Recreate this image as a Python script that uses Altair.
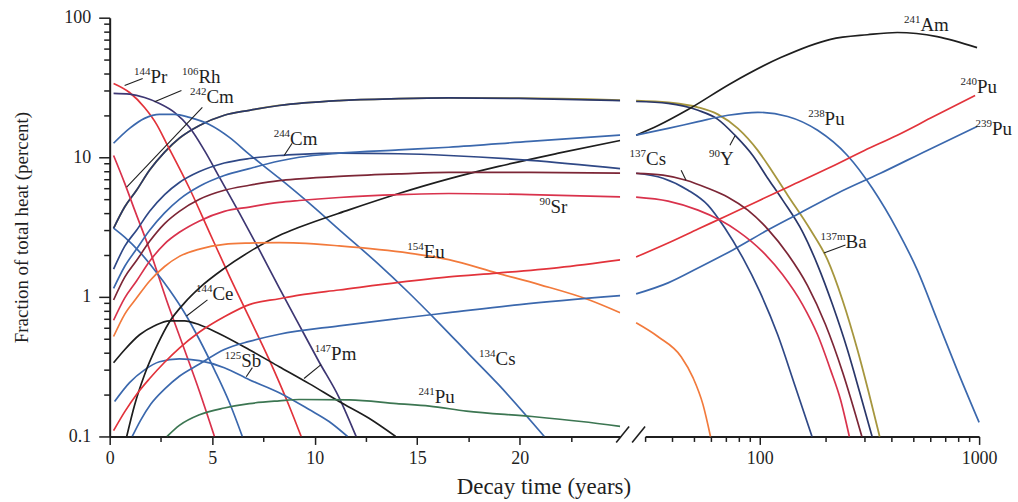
import altair as alt
import pandas as pd

FONT = "Liberation Serif"
INK = "#1f1f1f"

# ---------------- left panel data (years, linear axis) ----------------
y90L_t = [0.19, 0.73, 1.31, 1.95, 2.68, 3.40, 4.38, 5.59, 6.81, 8.27, 11.19, 14.10, 16.54, 19.94, 24.9]
y90L_v = [3.1, 4.4, 5.8, 8.1, 10.9, 13.7, 16.9, 20.0, 21.7, 23.5, 25.5, 26.3, 26.6, 26.4, 25.5]
ba137mL_v = [3.1, 4.4, 5.8, 8.1, 10.9, 13.7, 16.9, 20.0, 21.7, 23.5, 25.5, 26.3, 26.6, 26.5, 25.7]

pr144_t = [0.19, 0.97, 1.70, 2.29, 2.77, 3.89, 4.86, 5.84, 6.81, 7.78, 8.75, 9.34]
pr144_v = [33.8, 29.1, 22.7, 17.2, 12.6, 6.0, 2.91, 1.41, 0.71, 0.355, 0.166, 0.1]

rh106_t = [0.19, 0.97, 1.70, 2.43, 3.16, 3.89, 4.62, 5.35, 6.33, 7.30, 8.27, 9.24, 10.21, 11.19, 12.02]
rh106_v = [28.7, 28.3, 26.8, 24.3, 21.0, 16.4, 11.2, 7.2, 3.98, 2.17, 1.16, 0.63, 0.343, 0.19, 0.1]

cs134_t = [0.19, 0.97, 1.70, 2.43, 3.16, 3.89, 4.86, 5.84, 6.81, 8.27, 9.73, 11.33, 12.99, 14.59, 16.05, 17.51, 18.97, 21.2]
cs134_v = [12.6, 16.1, 19.0, 20.3, 20.3, 19.3, 17.2, 13.9, 10.5, 7.08, 4.69, 2.91, 1.78, 1.07, 0.652, 0.391, 0.235, 0.1]

cm242_t = [0.19, 0.73, 1.22, 1.95, 2.77, 3.65, 4.38, 5.11]
cm242_v = [10.3, 6.53, 4.18, 2.17, 0.95, 0.418, 0.21, 0.1]

ce144_t = [0.19, 0.73, 1.46, 2.19, 2.92, 3.65, 4.38, 5.11, 5.84, 6.47]
ce144_v = [3.11, 2.68, 2.1, 1.56, 1.12, 0.77, 0.493, 0.30, 0.175, 0.1]

pm147_t = [0.19, 0.73, 1.46, 2.19, 2.92, 3.65, 4.38, 5.35, 6.81, 8.27, 9.73, 11.19, 12.65, 13.95]
pm147_v = [0.337, 0.418, 0.535, 0.621, 0.674, 0.674, 0.631, 0.544, 0.418, 0.316, 0.239, 0.178, 0.135, 0.1]

sb125_t = [0.24, 0.97, 1.70, 2.43, 3.40, 4.38, 5.59, 6.81, 8.27, 9.73, 10.70, 11.6]
sb125_v = [0.178, 0.243, 0.30, 0.343, 0.36, 0.349, 0.311, 0.255, 0.206, 0.156, 0.128, 0.1]

am241L_t = [0.83, 1.22, 1.70, 2.33, 2.92, 3.65, 4.38, 5.59, 6.81, 8.27, 9.24, 11.67, 14.10, 16.54, 18.97, 21.89, 24.9]
am241L_v = [0.1, 0.169, 0.277, 0.454, 0.663, 0.906, 1.16, 1.6, 2.1, 2.75, 3.15, 4.2, 5.5, 7.0, 8.6, 10.7, 13.2]

fan_t = [0.19, 0.73, 1.31, 1.95, 2.68, 3.40, 4.38, 5.59, 6.81, 8.27, 9.24, 11.19, 14.10, 16.54, 20.5, 24.9]
cm244L_v = [1.58, 2.3, 3.0, 4.1, 5.4, 6.6, 7.9, 9.1, 9.8, 10.3, 10.5, 10.7, 10.6, 10.3, 9.5, 8.3]
pu238L_v = [1.15, 1.65, 2.2, 3.0, 4.0, 5.0, 6.2, 7.4, 8.3, 9.4, 10.0, 10.7, 11.3, 11.8, 13.0, 14.4]
cs137L_v = [0.95, 1.38, 1.82, 2.5, 3.35, 4.1, 5.0, 5.8, 6.3, 6.8, 7.0, 7.3, 7.6, 7.8, 7.8, 7.7]
sr90L_v = [0.68, 0.98, 1.3, 1.8, 2.4, 2.9, 3.5, 4.1, 4.4, 4.75, 4.9, 5.15, 5.4, 5.5, 5.4, 5.2]

eu154L_t = [0.19, 0.73, 1.31, 1.95, 2.68, 3.40, 4.38, 5.59, 6.81, 8.27, 9.24, 11.19, 14.6, 16.54, 18.9, 21.0, 23.4, 24.9]
eu154L_v = [0.52, 0.75, 0.98, 1.3, 1.65, 1.95, 2.2, 2.38, 2.43, 2.45, 2.43, 2.32, 2.06, 1.85, 1.48, 1.22, 0.95, 0.77]

pu240L_t = [0.19, 0.73, 1.31, 1.95, 2.68, 3.40, 4.38, 5.59, 6.81, 8.27, 9.24, 11.19, 14.10, 16.54, 18.9, 21.9, 24.9]
pu240L_v = [0.11, 0.15, 0.2, 0.26, 0.34, 0.43, 0.56, 0.72, 0.88, 0.97, 1.03, 1.12, 1.27, 1.39, 1.48, 1.62, 1.84]

pu239L_t = [1.1, 1.5, 2.0, 2.7, 3.4, 4.38, 5.59, 6.81, 8.27, 11.19, 14.1, 16.54, 20.0, 24.9]
pu239L_v = [0.1, 0.13, 0.17, 0.22, 0.27, 0.33, 0.42, 0.48, 0.54, 0.62, 0.7, 0.77, 0.88, 1.02]

pu241_t = [2.8, 3.4, 4.38, 5.59, 6.81, 8.27, 9.24, 11.7, 14.0, 15.6, 17.4, 20.6, 23.0, 24.9]
pu241_v = [0.1, 0.12, 0.143, 0.16, 0.172, 0.18, 0.184, 0.183, 0.172, 0.165, 0.152, 0.139, 0.128, 0.118]

# ---------------- right panel data (years, log axis) ----------------
y90R_t = [27.3, 38.2, 52.3, 64.4, 77.0, 92.9, 108.7, 127.2, 156.9, 183.5, 214.7, 251, 284.8, 325]
y90R_v = [25.1, 24.3, 21.7, 18.7, 14.4, 10.3, 7.08, 4.93, 2.91, 1.69, 0.877, 0.418, 0.21, 0.1]

ba137mR_t = [27.3, 38.2, 52.3, 64.4, 79.4, 97.9, 114.6, 134, 170.5, 203.7, 238.2, 278.8, 313, 352]
ba137mR_v = [25.5, 24.7, 22.8, 20.3, 16.1, 11.2, 7.81, 5.35, 3.01, 1.84, 0.95, 0.418, 0.21, 0.1]

am241R_t = [27.3, 34.4, 47.1, 73.8, 124.6, 210.2, 309.6, 423.7, 643.9, 978.5]
am241R_v = [14.4, 16.9, 22.0, 33.8, 51.8, 70.0, 75.5, 78.3, 73.2, 61.0]

pu238R_t = [27.3, 38.2, 52.3, 71.6, 97.9, 134, 183.5, 251, 326, 423.7, 522.3, 643.9, 793.7, 1000]
pu238R_v = [14.4, 16.1, 18.0, 20.0, 21.0, 19.6, 15.6, 10.3, 6.0, 3.01, 1.56, 0.685, 0.30, 0.126]

pu240R_t = [27.3, 38.2, 52.3, 71.6, 97.9, 134, 203.7, 300, 423.7, 598, 959]
pu240R_v = [1.93, 2.43, 3.06, 3.85, 4.85, 6.1, 8.3, 11.2, 14.4, 19.0, 27.7]

pu239R_t = [27.3, 38.2, 52.3, 75.4, 108.7, 148.9, 226.2, 354.8, 580, 978.5]
pu239R_v = [1.05, 1.26, 1.61, 2.17, 3.01, 3.91, 5.53, 7.68, 11.2, 16.6]

eu154R_t = [27.3, 34.4, 43.8, 49.6, 55.1, 59.6]
eu154R_v = [0.652, 0.518, 0.373, 0.264, 0.169, 0.1]

cm244R_t = [27.3, 36.2, 47.1, 58.0, 69.3, 83.7, 100, 120.7, 144.2, 173]
cm244R_v = [7.68, 7.08, 5.81, 4.54, 3.11, 1.9, 1.09, 0.535, 0.235, 0.1]

sr90R_t = [27.3, 38.2, 52.3, 65.8, 79.4, 103.2, 127.2, 156.9, 183.5, 210.2, 233.3, 256]
sr90R_v = [5.18, 4.85, 4.18, 3.55, 2.96, 2.10, 1.44, 0.877, 0.535, 0.30, 0.184, 0.1]

cs137R_t = [27.3, 36.2, 46.1, 58.0, 71.6, 88.2, 108.7, 134, 165.3, 199.5, 238.2, 292]
cs137R_v = [7.68, 7.44, 6.85, 6.0, 5.18, 4.18, 3.06, 2.03, 1.2, 0.631, 0.291, 0.1]

# ---------------- labels and leader lines ----------------
labL_mass = ["144", "106", "242", "244", "90", "154", "134", "147", "241", "144", "125"]
labL_elem = ["Pr", "Rh", "Cm", "Cm", "Sr", "Eu", "Cs", "Pm", "Pu", "Ce", "Sb"]
labL_t = [1.99, 4.33, 4.72, 8.80, 21.5, 15.32, 18.82, 10.8, 15.86, 5.01, 6.42]
labL_v = [34.3, 34.3, 24.3, 12.2, 3.98, 1.9, 0.327, 0.355, 0.175, 0.952, 0.316]

labR_mass = ["137", "90", "238", "241", "240", "239", "137m"]
labR_elem = ["Cs", "Y", "Pu", "Am", "Pu", "Pu", "Ba"]
labR_t = [30.3, 65.8, 197.5, 539.8, 978.5, 1145, 246]
labR_v = [8.77, 8.77, 16.9, 80.7, 28.7, 14.4, 2.24]

leadL_id = ["Pr", "Pr", "Rh", "Rh", "Cm2", "Cm2", "Cm4", "Cm4", "Ce", "Ce", "Sb", "Sb", "Pm", "Pm"]
leadL_t = [1.61, 0.73, 3.50, 2.19, 4.52, 0.83, 8.9, 8.51, 4.77, 3.75, 6.96, 6.66, 10.31, 9.48]
leadL_v = [36.7, 32.7, 30.1, 25.0, 22.8, 6.1, 12.6, 10.3, 0.952, 0.73, 0.311, 0.268, 0.327, 0.26]

leadR_id = ["Cs", "Cs", "Y", "Y", "Ba", "Ba"]
leadR_t = [43.8, 46.1, 77.0, 73.1, 246, 196]
leadR_v = [8.07, 6.85, 14.2, 12.2, 2.35, 2.06]

# ---------------- styles ----------------
NAVY = "#2a376a"
CMNAVY = "#2f4886"
BLUE = "#3b68ad"
BLACK = "#1e1e1e"
RED = "#e2333b"
PINK = "#d9324c"
MAROON = "#7c2636"
ORANGE = "#f27a3c"
GREEN = "#3c7652"
OLIVE = "#a6963e"
PURPLE = "#3e3773"

left_series = [
    ("Y90", NAVY, y90L_t, y90L_v),
    ("Pr144", RED, pr144_t, pr144_v),
    ("Rh106", PURPLE, rh106_t, rh106_v),
    ("Cs134", BLUE, cs134_t, cs134_v),
    ("Cm242", PINK, cm242_t, cm242_v),
    ("Ce144", BLUE, ce144_t, ce144_v),
    ("Pm147", BLACK, pm147_t, pm147_v),
    ("Sb125", BLUE, sb125_t, sb125_v),
    ("Am241", BLACK, am241L_t, am241L_v),
    ("Cm244", CMNAVY, fan_t, cm244L_v),
    ("Pu238", BLUE, fan_t, pu238L_v),
    ("Cs137", MAROON, fan_t, cs137L_v),
    ("Sr90", PINK, fan_t, sr90L_v),
    ("Eu154", ORANGE, eu154L_t, eu154L_v),
    ("Pu240", RED, pu240L_t, pu240L_v),
    ("Pu239", BLUE, pu239L_t, pu239L_v),
    ("Pu241", GREEN, pu241_t, pu241_v),
]
right_series = [
    ("Y90", NAVY, y90R_t, y90R_v),
    ("Am241", BLACK, am241R_t, am241R_v),
    ("Pu238", BLUE, pu238R_t, pu238R_v),
    ("Pu240", RED, pu240R_t, pu240R_v),
    ("Pu239", "#2f5aa3", pu239R_t, pu239R_v),
    ("Eu154", ORANGE, eu154R_t, eu154R_v),
    ("Cm244", CMNAVY, cm244R_t, cm244R_v),
    ("Sr90", PINK, sr90R_t, sr90R_v),
    ("Cs137", MAROON, cs137R_t, cs137R_v),
]


def frame(series):
    rows = []
    for name, _, ts, vs in series:
        for t, v in zip(ts, vs):
            rows.append({"s": name, "t": t, "v": v})
    return pd.DataFrame(rows)


def cscale(series):
    return alt.Scale(domain=[s[0] for s in series], range=[s[1] for s in series])


H = 420
WL = 512
WR = 335

yvals = [0.1, 0.2, 0.3, 0.4, 0.5, 0.6, 0.7, 0.8, 0.9, 1, 2, 3, 4, 5, 6, 7, 8, 9,
         10, 20, 30, 40, 50, 60, 70, 80, 90, 100]
ymajor = "(datum.value == 0.1 || datum.value == 1 || datum.value == 10 || datum.value == 100)"
yscale = alt.Scale(type="log", domain=[0.1, 100], nice=False)

yaxis = alt.Axis(
    values=yvals,
    labelExpr="datum.value == 0.1 ? '0.1' : datum.value == 1 ? '1' : datum.value == 10 ? '10' : datum.value == 100 ? '100' : ''",
    tickSize={"condition": {"test": ymajor, "value": 11}, "value": 6},
    labelPadding=8,
    title="Fraction of total heat (percent)",
    titlePadding=32,
    titleFontSize=19,
)

xl_vals = [0, 2.5, 5, 7.5, 10, 12.5, 15, 17.5, 20, 22.5]
xl_axis = alt.Axis(
    values=xl_vals,
    labelExpr="datum.value % 5 == 0 ? format(datum.value, 'd') : ''",
    tickSize={"condition": {"test": "datum.value % 5 == 0", "value": 8}, "value": 5},
    labelPadding=5,
    labelFlush=False,
    title="Decay time (years)",
    titleX=435,
    titleY=57,
    titleBaseline="alphabetic",
    titleAlign="center",
    titleFontSize=23,
)
xl_scale = alt.Scale(domain=[0, 24.9], nice=False, zero=False)

xr_vals = [30, 40, 50, 60, 70, 80, 90, 100, 200, 300, 400, 500, 600, 700, 800, 900, 1000]
xr_axis = alt.Axis(
    values=xr_vals,
    labelExpr="datum.value == 100 ? '100' : datum.value == 1000 ? '1000' : ''",
    tickSize={"condition": {"test": "datum.value == 100 || datum.value == 1000", "value": 8}, "value": 5},
    labelPadding=5,
    labelFlush=False,
    title=None,
)
xr_scale = alt.Scale(type="log", domain=[30, 1000], nice=False)

# ---------- left panel ----------
dfL = frame(left_series)
dfBaL = pd.DataFrame({"t": y90L_t, "v": ba137mL_v})

baL = alt.Chart(dfBaL).mark_line(color=OLIVE, strokeWidth=1.8, interpolate="monotone", clip=True).encode(
    x=alt.X("t:Q", scale=xl_scale, axis=xl_axis),
    y=alt.Y("v:Q", scale=yscale, axis=yaxis),
)
linesL = alt.Chart(dfL).mark_line(strokeWidth=1.7, interpolate="monotone", clip=True).encode(
    x=alt.X("t:Q", scale=xl_scale, axis=xl_axis),
    y=alt.Y("v:Q", scale=yscale, axis=yaxis),
    color=alt.Color("s:N", scale=cscale(left_series), legend=None),
    detail="s:N",
)
dfLabL = pd.DataFrame({"t": labL_t, "v": labL_v, "m": labL_mass, "e": labL_elem})
supL = alt.Chart(dfLabL).mark_text(font=FONT, fontSize=11, align="right", baseline="alphabetic", dy=-8, color=INK).encode(
    x="t:Q", y="v:Q", text="m:N")
elemL = alt.Chart(dfLabL).mark_text(font=FONT, fontSize=19, align="left", baseline="alphabetic", color=INK).encode(
    x="t:Q", y="v:Q", text="e:N")
dfLeadL = pd.DataFrame({"id": leadL_id, "t": leadL_t, "v": leadL_v})
leadL = alt.Chart(dfLeadL).mark_line(color=INK, strokeWidth=1.1).encode(
    x="t:Q", y="v:Q", detail="id:N")

left = alt.layer(baL, linesL, leadL, supL, elemL).properties(width=WL, height=H)

# ---------- right panel ----------
dfR = frame(right_series)
dfBaR = pd.DataFrame({"t": ba137mR_t, "v": ba137mR_v})
baR = alt.Chart(dfBaR).mark_line(color=OLIVE, strokeWidth=1.8, interpolate="monotone").encode(
    x=alt.X("t:Q", scale=xr_scale, axis=xr_axis),
    y=alt.Y("v:Q", scale=yscale, axis=None),
)
linesR = alt.Chart(dfR).mark_line(strokeWidth=1.7, interpolate="monotone").encode(
    x=alt.X("t:Q", scale=xr_scale, axis=xr_axis),
    y=alt.Y("v:Q", scale=yscale, axis=None),
    color=alt.Color("s:N", scale=cscale(right_series), legend=None),
    detail="s:N",
)
dfLabR = pd.DataFrame({"t": labR_t, "v": labR_v, "m": labR_mass, "e": labR_elem})
supR = alt.Chart(dfLabR).mark_text(font=FONT, fontSize=11, align="right", baseline="alphabetic", dy=-8, color=INK).encode(
    x="t:Q", y="v:Q", text="m:N")
elemR = alt.Chart(dfLabR).mark_text(font=FONT, fontSize=19, align="left", baseline="alphabetic", color=INK).encode(
    x="t:Q", y="v:Q", text="e:N")
dfLeadR = pd.DataFrame({"id": leadR_id, "t": leadR_t, "v": leadR_v})
leadR = alt.Chart(dfLeadR).mark_line(color=INK, strokeWidth=1.1).encode(
    x="t:Q", y="v:Q", detail="id:N")

one = pd.DataFrame({"k": [0]})
brk1 = alt.Chart(one).mark_rule(color=INK, strokeWidth=1.6).encode(
    x=alt.value(-29), x2=alt.value(-16), y=alt.value(H + 6), y2=alt.value(H - 10))
brk2 = alt.Chart(one).mark_rule(color=INK, strokeWidth=1.6).encode(
    x=alt.value(-13), x2=alt.value(0), y=alt.value(H + 6), y2=alt.value(H - 10))

right = alt.layer(baR, linesR, leadR, supR, elemR, brk1, brk2).properties(width=WR, height=H)

chart = alt.hconcat(left, right, spacing=25, bounds="flush").properties(
    padding={"left": 13, "top": 8, "right": 5, "bottom": 5},
    background="white",
).configure_view(stroke=None).configure_axis(
    labelFont=FONT, titleFont=FONT, labelFontSize=18, labelColor=INK, titleColor=INK,
    domainColor=INK, tickColor=INK, domainWidth=2, tickWidth=1.5, grid=False,
    titleFontWeight="normal",
).configure_concat(spacing=25)

chart.save("out.html", embed_options={"renderer": "svg", "actions": False})
